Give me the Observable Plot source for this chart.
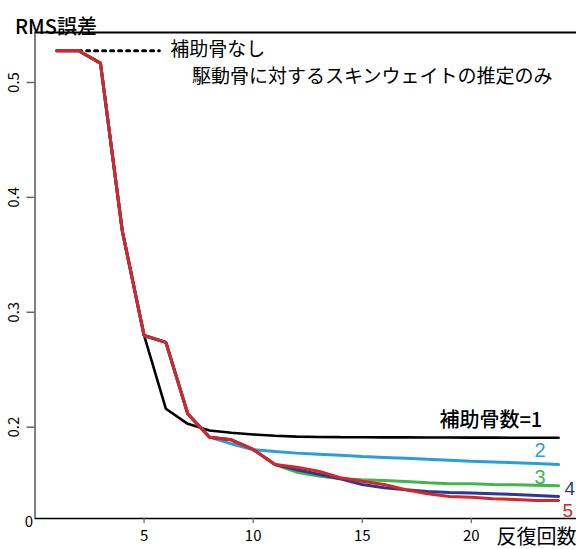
<!DOCTYPE html>
<html>
<head>
<meta charset="utf-8">
<script src="https://cdn.jsdelivr.net/npm/d3@7"></script>
<script src="https://cdn.jsdelivr.net/npm/@observablehq/plot@0.6"></script>
<style>
html, body { margin: 0; padding: 0; background: #fff; }
svg { display: block; }
</style>
</head>
<body>
<div id="chart"></div>
<script>
const iterations = [1,2,3,4,5,6,7,8,9,10,11,12,13,14,15,16,17,18,19,20,21,22,23,24];
const aux1 = [0.5276,0.5276,0.5168,0.371,0.2798,0.216,0.2029,0.1971,0.1951,0.1936,0.1925,0.1918,0.1915,0.1913,0.1912,0.1911,0.1911,0.191,0.191,0.1909,0.1909,0.1908,0.1908,0.1908];
const aux2 = [0.5276,0.5276,0.5168,0.371,0.2798,0.2738,0.2117,0.1913,0.1855,0.1803,0.1788,0.1774,0.1765,0.1755,0.1745,0.1737,0.1729,0.172,0.1712,0.1704,0.1697,0.169,0.1683,0.1675];
const aux3 = [0.5276,0.5276,0.5168,0.371,0.2798,0.2738,0.2117,0.1913,0.189,0.1806,0.1675,0.1608,0.1574,0.1551,0.1542,0.1536,0.1527,0.1516,0.1507,0.1507,0.1501,0.1498,0.1495,0.149];
const aux4 = [0.5276,0.5276,0.5168,0.371,0.2798,0.2738,0.2117,0.1913,0.189,0.1806,0.1675,0.163,0.159,0.1551,0.1501,0.1473,0.1455,0.144,0.1432,0.1426,0.142,0.1414,0.1406,0.1397];
const aux5 = [0.5276,0.5276,0.5168,0.371,0.2798,0.2738,0.2117,0.1913,0.189,0.1806,0.1675,0.1652,0.1617,0.156,0.153,0.1501,0.1455,0.142,0.1397,0.139,0.1377,0.137,0.1362,0.1362];

const seriesNames = ["補助骨数=1","2","3","4","5"];
const seriesColors = ["#000000","#2a9ed8","#41b649","#2b3a8f","#d7262b"];
const seriesWidths = [2.6,3,3,3,3];
const labelX = [23.25,23.40,23.40,24.75,24.66];
const labelY = [0.2058,0.1797,0.1562,0.14665,0.1275];
const labelSize = [20,20,20,19,19];

const xTicks = [5,10,15,20];
const yTicks = [0.2,0.3,0.4,0.5];
const xDomain = [0, 24.82];
const yDomain = [0.1205, 0.5435];

const legendLineX = [2, 5.7];
const legendLineY = 0.5276;
const legendText1 = "補助骨なし";
const legendText2 = "駆動骨に対するスキンウェイトの推定のみ";
const legendPosX = [6.2, 7.2];
const legendPosY = [0.5287, 0.5052];

const allSeries = [aux1, aux2, aux3, aux4, aux5];
const tables = allSeries.map(vals => iterations.map((it, i) => ({it, v: vals[i]})));
const labels = seriesNames.map((name, i) => ({name, x: labelX[i], y: labelY[i], color: seriesColors[i], size: labelSize[i]}));
const legendLine = legendLineX.map(x => ({x, y: legendLineY}));
const legendTexts = [
  {t: legendText1, x: legendPosX[0], y: legendPosY[0]},
  {t: legendText2, x: legendPosX[1], y: legendPosY[1]}
];

const font = "'Noto Sans CJK JP', 'Noto Sans', sans-serif";
const digitFont = "'Liberation Sans', Arial, sans-serif";

const plot = Plot.plot({
  width: 576,
  height: 549,
  marginTop: 32,
  marginBottom: 31,
  marginLeft: 34.5,
  marginRight: 0,
  style: {fontFamily: font, background: "#fff", overflow: "visible"},
  x: {domain: xDomain, axis: null},
  y: {domain: yDomain, axis: null},
  marks: [
    Plot.ruleY([yDomain[1]], {stroke: "#000", strokeWidth: 2}),
    Plot.ruleY([yDomain[0]], {stroke: "#000", strokeWidth: 1.5}),
    Plot.ruleX([xDomain[0]], {stroke: "#555", strokeWidth: 1.5}),
    Plot.axisY({ticks: yTicks, tickSize: 8, tickFormat: () => "", stroke: "#666", strokeWidth: 1.5}),
    Plot.text(yTicks, {y: d => d, text: d => String(d), frameAnchor: "left", dx: -21, rotate: -90, textAnchor: "middle", fontSize: 15, fill: "#000"}),
    Plot.axisX({ticks: xTicks, tickSize: 5, tickPadding: 7, fontSize: 15, stroke: "#666", strokeWidth: 1.2, fill: "#000"}),
    Plot.text(["0"], {x: xDomain[0], frameAnchor: "bottom", dx: -6, dy: 8, fontSize: 15, fill: "#000"}),
    Plot.text(["反復回数"], {frameAnchor: "bottom-right", dy: 25, textAnchor: "end", fontSize: 20, fill: "#000"}),
    Plot.text(["RMS誤差"], {frameAnchor: "top-left", dx: -20, dy: -13, textAnchor: "start", fontSize: 20, fontWeight: 500, fill: "#000"}),
    Plot.line(legendLine, {x: "x", y: "y", stroke: "#000", strokeWidth: 3, strokeDasharray: "3,5"}),
    Plot.text(legendTexts, {x: "x", y: "y", text: "t", textAnchor: "start", fontSize: 19, fill: "#000"}),
    ...tables.map((t, i) => Plot.line(t, {x: "it", y: "v", stroke: seriesColors[i], strokeWidth: seriesWidths[i], strokeLinejoin: "miter"})),
    Plot.text(labels.slice(0, 1), {x: "x", y: "y", text: "name", fill: "color", textAnchor: "end", fontSize: d => d.size, fontWeight: 500}),
    Plot.text(labels.slice(1), {x: "x", y: "y", text: "name", fill: "color", textAnchor: "end", fontSize: d => d.size, fontFamily: digitFont})
  ]
});
document.getElementById("chart").appendChild(plot);
</script>
</body>
</html>
